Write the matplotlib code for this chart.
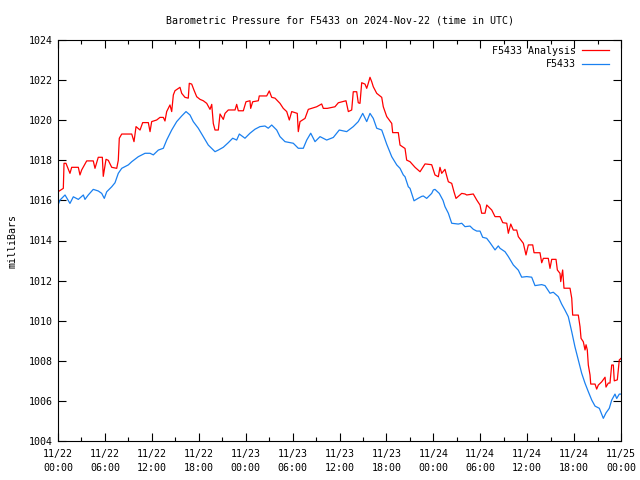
import matplotlib
matplotlib.use('Agg')
import matplotlib.pyplot as plt
from matplotlib.ticker import MultipleLocator

# hours after 2024-11-22 00:00 UTC, pressure in mbar
analysis_hours = [0.0, 0.68, 0.77, 1.02, 1.53, 1.75, 2.60, 2.81, 3.03, 3.67, 4.51, 4.73, 5.15, 5.67,
                  5.79, 6.14, 6.43, 6.87, 7.51, 7.71, 7.84, 8.15, 9.43, 9.72, 9.98, 10.49, 10.83,
                  11.55, 11.77, 11.98, 12.62, 13.04, 13.47, 13.68, 13.90, 14.32, 14.54, 14.75,
                  14.96, 15.60, 15.82, 16.24, 16.66, 16.79, 17.10, 17.39, 17.74, 18.16, 18.58,
                  19.02, 19.44, 19.66, 19.86, 20.08, 20.50, 20.72, 21.14, 21.36, 21.78, 22.64,
                  22.85, 23.06, 23.70, 24.04, 24.55, 24.64, 24.90, 25.62, 25.74, 26.69, 27.02,
                  27.33, 27.75, 28.39, 28.81, 29.25, 29.58, 29.89, 30.60, 30.73, 30.95, 31.59,
                  32.01, 33.08, 33.72, 33.93, 34.44, 35.42, 35.85, 36.83, 37.13, 37.56, 37.76,
                  38.20, 38.40, 38.62, 38.84, 39.26, 39.48, 39.68, 39.90, 40.12, 40.32, 40.76,
                  41.40, 41.60, 42.04, 42.68, 42.80, 43.52, 43.74, 44.38, 44.59, 45.02, 45.66,
                  46.30, 46.94, 47.79, 48.21, 48.64, 48.85, 49.07, 49.49, 49.71, 49.92, 50.35,
                  50.64, 50.90, 51.63, 52.05, 52.27, 53.11, 53.55, 53.97, 54.18, 54.61, 54.83,
                  55.47, 55.89, 56.53, 56.88, 57.39, 57.59, 57.90, 58.23, 58.66, 58.87, 59.51,
                  59.85, 60.15, 60.71, 60.88, 61.64, 61.86, 62.07, 62.70, 62.92, 63.14, 63.69,
                  63.86, 64.20, 64.29, 64.54, 64.71, 65.48, 65.70, 65.82, 66.54, 66.76, 66.89,
                  67.18, 67.40, 67.53, 67.69, 67.82, 68.04, 68.13, 68.68, 68.89, 69.10, 69.53,
                  69.96, 70.08, 70.38, 70.59, 70.81, 71.02, 71.14, 71.53, 71.78, 72.0]
analysis_mb = [1016.43, 1016.6, 1017.85, 1017.85, 1017.35, 1017.65, 1017.65, 1017.27, 1017.52,
               1017.97, 1017.97, 1017.6, 1018.15, 1018.15, 1017.2, 1018.05, 1018.0, 1017.65,
               1017.6, 1018.0, 1019.1, 1019.31, 1019.31, 1018.93, 1019.68, 1019.51, 1019.88,
               1019.88, 1019.43, 1019.93, 1020.01, 1020.14, 1020.14, 1019.96, 1020.43, 1020.76,
               1020.43, 1021.26, 1021.47, 1021.64, 1021.34, 1021.14, 1021.1, 1021.84, 1021.8,
               1021.5, 1021.17, 1021.04, 1020.97, 1020.84, 1020.54, 1020.79, 1019.84, 1019.51,
               1019.51, 1020.31, 1020.04, 1020.34, 1020.51, 1020.51, 1020.79, 1020.47, 1020.47,
               1020.92, 1020.97, 1020.59, 1020.92, 1020.97, 1021.21, 1021.21, 1021.46, 1021.14,
               1021.1, 1020.84, 1020.59, 1020.43, 1020.01, 1020.43, 1020.34, 1019.43, 1019.93,
               1020.09, 1020.54, 1020.67, 1020.81, 1020.59, 1020.59, 1020.67, 1020.87, 1020.97,
               1020.43, 1020.51, 1021.42, 1021.42, 1020.87, 1020.84, 1021.87, 1021.8, 1021.59,
               1021.84, 1022.14, 1021.92, 1021.67, 1021.34, 1021.14, 1020.67, 1020.18, 1019.84,
               1019.38, 1019.38, 1018.76, 1018.59, 1018.01, 1017.93, 1017.65, 1017.43, 1017.82,
               1017.78, 1017.27, 1017.18, 1017.65, 1017.35, 1017.55, 1017.22, 1016.93, 1016.85,
               1016.43, 1016.1, 1016.35, 1016.32, 1016.27, 1016.32, 1016.02, 1015.77, 1015.36,
               1015.36, 1015.77, 1015.52, 1015.19, 1015.19, 1014.89, 1014.86, 1014.36, 1014.82,
               1014.52, 1014.52, 1014.19, 1013.86, 1013.28, 1013.78, 1013.78, 1013.39, 1013.39,
               1012.89, 1013.11, 1013.11, 1012.61, 1013.06, 1013.06, 1012.53, 1012.36, 1011.95,
               1012.53, 1011.62, 1011.62, 1011.12, 1010.28, 1010.28, 1009.7, 1009.12, 1008.95,
               1008.54, 1008.8, 1008.54, 1007.79, 1007.29, 1006.84, 1006.84, 1006.59, 1006.79,
               1006.95, 1007.18, 1006.69, 1006.89, 1006.89, 1007.79, 1007.79, 1007.0, 1007.05,
               1008.04, 1008.12]

station_hours = [0.0, 0.26, 0.90, 1.53, 1.96, 2.60, 3.24, 3.45, 3.87, 4.51, 5.15, 5.59, 5.92, 6.23,
                 6.87, 7.29, 7.71, 8.15, 8.99, 9.43, 10.27, 11.13, 11.77, 12.19, 12.83, 13.47,
                 13.90, 14.54, 15.18, 15.82, 16.37, 16.88, 17.30, 17.94, 18.58, 19.22, 20.08,
                 20.50, 21.14, 21.78, 22.34, 22.85, 23.19, 23.91, 24.55, 25.19, 25.83, 26.47,
                 26.89, 27.33, 27.97, 28.39, 29.03, 30.09, 30.73, 31.37, 31.81, 32.32, 32.87,
                 33.51, 34.36, 35.21, 35.97, 36.92, 37.76, 38.40, 38.97, 39.48, 39.90, 40.32,
                 40.76, 41.40, 42.04, 42.68, 43.32, 43.74, 44.16, 44.38, 44.80, 45.02, 45.53,
                 46.04, 46.51, 46.72, 47.15, 47.79, 48.00, 48.21, 48.76, 49.24, 49.49, 49.92,
                 50.35, 51.19, 51.63, 52.05, 52.69, 53.11, 53.55, 53.97, 54.31, 54.82, 55.25,
                 55.89, 56.31, 56.53, 57.17, 57.59, 58.23, 58.87, 59.30, 59.94, 60.58, 61.00,
                 61.86, 62.28, 62.92, 63.34, 63.98, 64.41, 64.83, 65.26, 65.70, 66.11, 66.54,
                 66.97, 67.40, 67.82, 68.26, 68.68, 69.23, 69.74, 70.08, 70.50, 70.81, 71.23,
                 71.45, 71.78, 72.0]
station_mb = [1015.77, 1016.02, 1016.27, 1015.85, 1016.18, 1016.05, 1016.27, 1016.05, 1016.27,
              1016.55, 1016.47, 1016.35, 1016.1, 1016.43, 1016.68, 1016.88, 1017.35, 1017.6,
              1017.77, 1017.93, 1018.18, 1018.35, 1018.35, 1018.27, 1018.51, 1018.6, 1019.01,
              1019.51, 1019.93, 1020.21, 1020.43, 1020.26, 1019.93, 1019.6, 1019.18, 1018.76,
              1018.43, 1018.51, 1018.65, 1018.88, 1019.1, 1019.01, 1019.31, 1019.1, 1019.35,
              1019.55, 1019.68, 1019.71, 1019.6, 1019.76, 1019.51, 1019.18, 1018.93, 1018.85,
              1018.6, 1018.6, 1019.01, 1019.35, 1018.93, 1019.18, 1019.01, 1019.14, 1019.51,
              1019.43, 1019.68, 1019.93, 1020.34, 1019.93, 1020.34, 1020.09, 1019.6, 1019.51,
              1018.8, 1018.18, 1017.77, 1017.6, 1017.27, 1017.18, 1016.68, 1016.6, 1015.98,
              1016.1, 1016.2, 1016.22, 1016.1, 1016.35, 1016.52, 1016.55, 1016.35, 1016.0,
              1015.69, 1015.36, 1014.86, 1014.82, 1014.86, 1014.69, 1014.72, 1014.56, 1014.47,
              1014.47, 1014.16, 1014.11, 1013.89, 1013.53, 1013.73, 1013.61, 1013.44, 1013.2,
              1012.78, 1012.52, 1012.17, 1012.2, 1012.17, 1011.75, 1011.8, 1011.75, 1011.37,
              1011.42, 1011.2, 1010.83, 1010.53, 1010.2, 1009.45, 1008.7, 1008.04, 1007.38,
              1006.88, 1006.46, 1006.04, 1005.74, 1005.63, 1005.13, 1005.4, 1005.63, 1006.04,
              1006.34, 1006.12, 1006.34, 1006.34]

tick_hours = [0, 6, 12, 18, 24, 30, 36, 42, 48, 54, 60, 66, 72]
tick_labels = ['11/22\n00:00', '11/22\n06:00', '11/22\n12:00', '11/22\n18:00',
               '11/23\n00:00', '11/23\n06:00', '11/23\n12:00', '11/23\n18:00',
               '11/24\n00:00', '11/24\n06:00', '11/24\n12:00', '11/24\n18:00',
               '11/25\n00:00']

plt.rcParams['font.family'] = 'DejaVu Sans Mono'
plt.rcParams['font.size'] = 7.2

fig = plt.figure(figsize=(6.4, 4.8), dpi=100)
ax = fig.add_axes([58 / 640, 39 / 480, 563 / 640, 401 / 480])

ax.plot(analysis_hours, analysis_mb, color='#ff0000', lw=0.9, label='F5433 Analysis')
ax.plot(station_hours, station_mb, color='#1a80f0', lw=0.9, label='F5433')

ax.set_xlim(0, 72)
ax.set_ylim(1004, 1024)
ax.set_xticks(tick_hours)
ax.set_xticklabels(tick_labels, linespacing=1.45)
ax.xaxis.set_minor_locator(MultipleLocator(3))
ax.set_yticks(range(1004, 1025, 2))
ax.tick_params(which='both', direction='in', top=True, right=True, color='black')
ax.tick_params(which='major', length=6, width=0.8, pad=4)
ax.tick_params(axis='x', which='major', pad=6)
ax.tick_params(which='minor', length=3, width=0.8)
for s in ax.spines.values():
    s.set_linewidth(0.8)

ax.set_ylabel('milliBars', labelpad=8)
ax.set_title('Barometric Pressure for F5433 on 2024-Nov-22 (time in UTC)',
             fontsize=7.2, pad=12)

ax.legend(loc='upper right', bbox_to_anchor=(1 - 6 / 563, 1), frameon=False,
          markerfirst=False, handlelength=2.7, borderaxespad=0.2,
          handletextpad=0.6, labelspacing=0.35)

fig.savefig('out.png', dpi=100)
